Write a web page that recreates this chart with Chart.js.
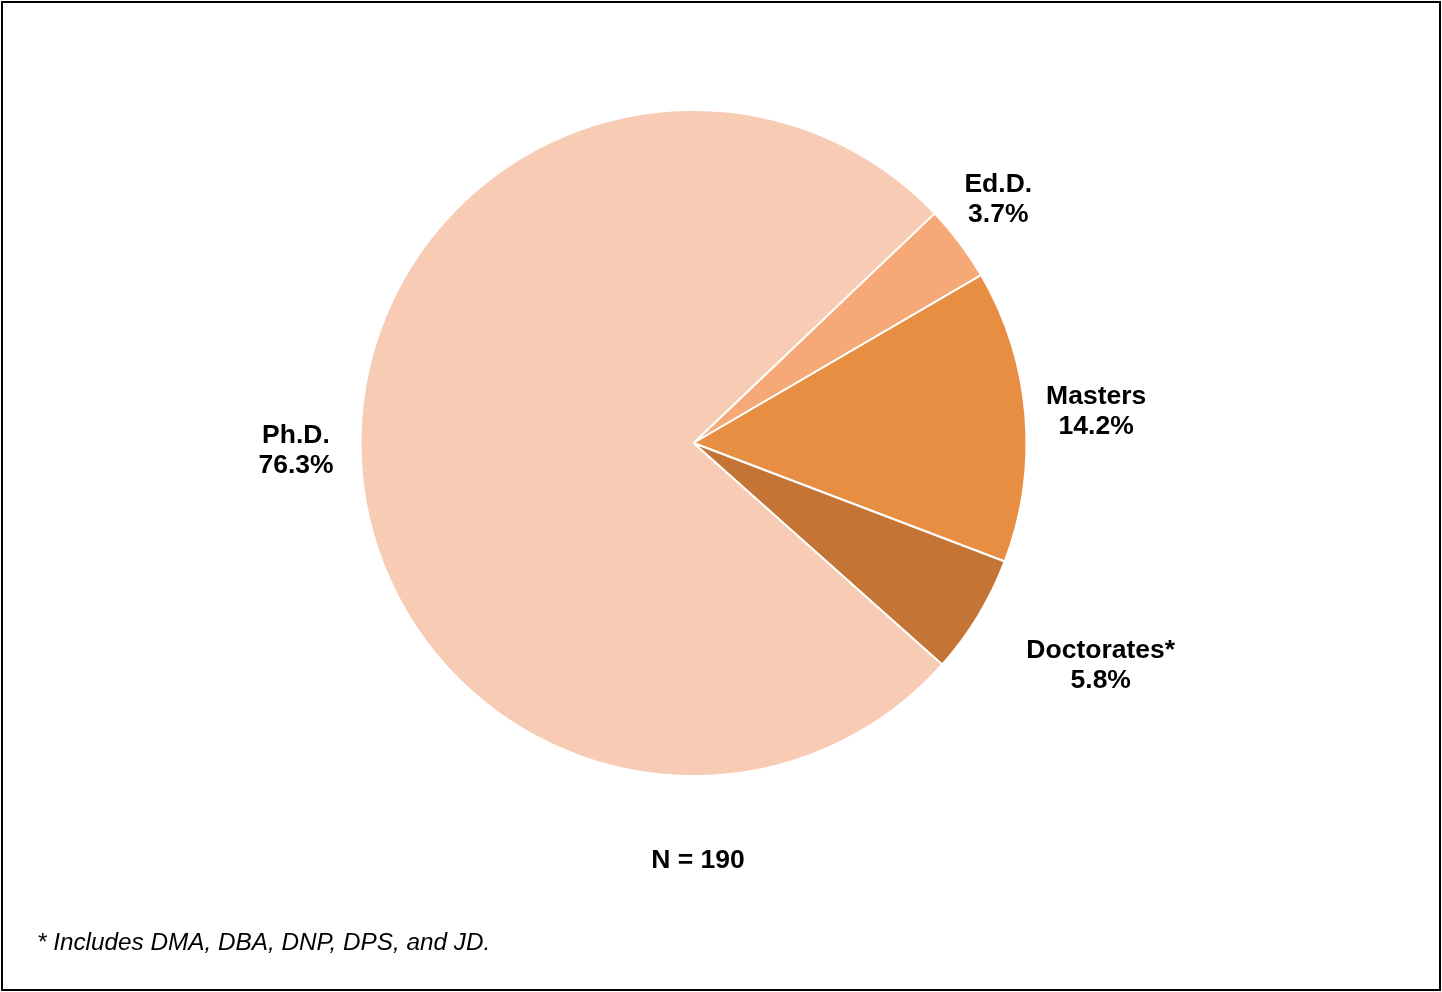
<!DOCTYPE html>
<html>
<head>
<meta charset="utf-8">
<script src="https://cdn.jsdelivr.net/npm/chart.js@4"></script>
<style>
    html, body { margin: 0; padding: 0; background: #fff; }
    #wrap { position: relative; width: 1442px; height: 992px; }
</style>
</head>
<body>
<div id="wrap"><canvas id="pieChart" width="1442" height="992"></canvas></div>
<script>
const categories = ['Ed.D.', 'Masters', 'Doctorates*', 'Ph.D.'];
const percents = [3.7, 14.2, 5.8, 76.3];
const sliceColors = ['#F6A976', '#E88E43', '#C47535', '#F8CBB4'];
const nLabel = 'N = 190';
const footnote = '* Includes DMA, DBA, DNP, DPS, and JD.';

// small hand nudges so labels sit where they do in the original
const labelNudge = [[-10, -12], [-6, 0], [36, 23], [0, 1]];

const labelFont = 'bold 26.5px "Liberation Sans", Arial, sans-serif';

const sliceLabels = {
    id: 'sliceLabels',
    afterDraw(chart) {
        const ctx = chart.ctx;
        const arcs = chart.getDatasetMeta(0).data;
        ctx.save();
        ctx.font = labelFont;
        ctx.fillStyle = '#000';
        ctx.textAlign = 'center';
        ctx.textBaseline = 'middle';
        arcs.forEach((arc, i) => {
            const lines = [categories[i], percents[i].toFixed(1) + '%'];
            const w = Math.max(...lines.map(l => ctx.measureText(l).width));
            const h = 50;
            const a = (arc.startAngle + arc.endAngle) / 2;
            const r = arc.outerRadius + 27;
            const cx = arc.x + Math.cos(a) * (r + w / 2) + labelNudge[i][0];
            const cy = arc.y + Math.sin(a) * (r + h / 2) + labelNudge[i][1];
            ctx.fillText(lines[0], cx, cy - 15);
            ctx.fillText(lines[1], cx, cy + 15);
        });

        ctx.fillText(nLabel, 698, 861);

        ctx.font = 'italic 24.3px "Liberation Sans", Arial, sans-serif';
        ctx.textAlign = 'left';
        ctx.textBaseline = 'alphabetic';
        ctx.fillText(footnote, 37, 950);

        ctx.strokeStyle = '#000';
        ctx.lineWidth = 2;
        ctx.strokeRect(2, 2, 1438, 988);
        ctx.restore();
    }
};

new Chart(document.getElementById('pieChart').getContext('2d'), {
    type: 'pie',
    data: {
        labels: categories,
        datasets: [{
            data: percents,
            backgroundColor: sliceColors,
            borderColor: '#ffffff',
            borderWidth: 2
        }]
    },
    options: {
        responsive: false,
        animation: false,
        rotation: 46.4,
        radius: 333,
        layout: { padding: { left: 0, right: 55, top: 0, bottom: 106 } },
        plugins: {
            legend: { display: false },
            tooltip: { enabled: false }
        }
    },
    plugins: [sliceLabels]
});
</script>
</body>
</html>
